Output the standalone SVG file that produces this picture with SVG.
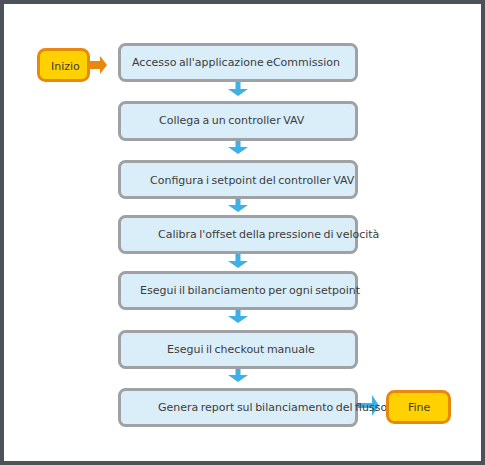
<svg xmlns="http://www.w3.org/2000/svg" width="485" height="465" viewBox="0 0 485 465">
<style>
.step{fill:#daeef9;stroke:#a0a1a5;stroke-width:3}
.term{fill:#ffd100;stroke:#e8880c;stroke-width:3}
text{font-family:"DejaVu Sans","Liberation Sans",sans-serif;font-size:11px;word-spacing:-1px;fill:#3c3c3c}
.ab{fill:#3eb0e6}
.ao{fill:#e8880c}
</style>
<rect x="2" y="2" width="481" height="461" fill="#fff" stroke="#4c5258" stroke-width="4"/>
<g id="connectors">
<path class="ao" d="M90 61H100V56L107 65L100 74V69H90Z"/>
<path class="ab" d="M235.5 82H240.5V89H248L238 96L228 89H235.5Z"/>
<path class="ab" d="M235.5 141H240.5V147H248L238 154L228 147H235.5Z"/>
<path class="ab" d="M235.5 199H240.5V205H248L238 212L228 205H235.5Z"/>
<path class="ab" d="M235.5 254H240.5V261H248L238 268L228 261H235.5Z"/>
<path class="ab" d="M235.5 310H240.5V316H248L238 323L228 316H235.5Z"/>
<path class="ab" d="M235.5 369H240.5V375H248L238 382L228 375H235.5Z"/>
<path class="ab" d="M358 403H372V395L379 405.5L372 416V408H358Z"/>
</g>
<g id="start"><rect class="term" x="38.5" y="49.5" width="50" height="31" rx="7"/><text x="51" y="69.5">Inizio</text></g>
<g id="s1"><rect class="step" x="119.5" y="44.5" width="237" height="36" rx="6"/><text x="132" y="65.5">Accesso all'applicazione eCommission</text></g>
<g id="s2"><rect class="step" x="119.5" y="102.5" width="237" height="37" rx="6"/><text x="159" y="124">Collega a un controller VAV</text></g>
<g id="s3"><rect class="step" x="119.5" y="161.5" width="237" height="36" rx="6"/><text x="150" y="183.5">Configura i setpoint del controller VAV</text></g>
<g id="s4"><rect class="step" x="119.5" y="216.5" width="237" height="36" rx="6"/><text x="158" y="238">Calibra l'offset della pressione di velocità</text></g>
<g id="s5"><rect class="step" x="119.5" y="272.5" width="237" height="36" rx="6"/><text x="140" y="293.5">Esegui il bilanciamento per ogni setpoint</text></g>
<g id="s6"><rect class="step" x="119.5" y="331.5" width="237" height="36" rx="6"/><text x="167" y="352.5">Esegui il checkout manuale</text></g>
<g id="s7"><rect class="step" x="119.5" y="389.5" width="237" height="36" rx="6"/><text x="158" y="411">Genera report sul bilanciamento del flusso</text></g>
<g id="end"><rect class="term" x="387.5" y="391.5" width="62" height="31" rx="7"/><text x="408" y="411">Fine</text></g>
</svg>
